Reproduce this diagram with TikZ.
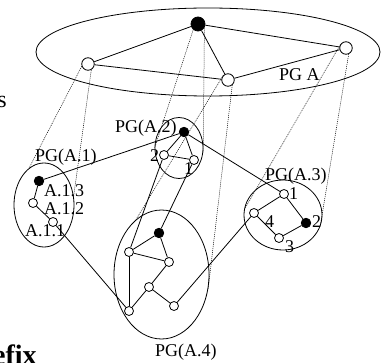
\documentclass[tikz,border=0pt]{standalone}
\usepackage{fontspec}
\setmainfont{Liberation Serif}
\usetikzlibrary{shapes.geometric}
\begin{document}
\begin{tikzpicture}[x=1pt,y=-1pt,
  lbl/.style={font=\fontsize{18}{21}\selectfont, inner sep=0pt},
  topw/.style={circle,draw,fill=white,line width=0.8pt,minimum size=12.5pt,inner sep=0pt},
  topb/.style={circle,draw,fill=black,line width=0.8pt,minimum size=14pt,inner sep=0pt},
  subw/.style={circle,draw,fill=white,line width=0.8pt,minimum size=9pt,inner sep=0pt},
  subb/.style={circle,draw,fill=black,line width=0.8pt,minimum size=9.5pt,inner sep=0pt},
  grp/.style={ellipse,draw,line width=0.8pt,inner sep=0pt},
  edge/.style={line width=0.8pt},
  proj/.style={line width=0.5pt, dash pattern=on 1pt off 1pt}]
\useasboundingbox (0,0) rectangle (381,363);

% group ellipses
\node[grp, minimum width=344pt, minimum height=88pt] (g0) at (208,52) {};
\node[grp, minimum width=60pt, minimum height=84pt] (g1) at (44,205) {};
\node[grp, minimum width=48pt, minimum height=61pt] (g2) at (179,148) {};
\node[grp, minimum width=78pt, minimum height=70pt] (g3) at (283,215) {};
\node[grp, minimum width=95pt, minimum height=129pt] (g4) at (161.5,274.5) {};

% top nodes
\node[topw] (L) at (88,64) {};
\node[topb] (B) at (198,24) {};
\node[topw] (M) at (228,80) {};
\node[topw] (R) at (346,48) {};

% PG(A.1)
\node[subb] (a13) at (39,181) {};
\node[subw] (a12) at (33,203) {};
\node[subw] (a11) at (53,222) {};
% PG(A.2)
\node[subb] (b0) at (184,132) {};
\node[subw] (b2) at (164,155) {};
\node[subw] (b1) at (194,160) {};
% PG(A.3)
\node[subw] (c1) at (284,194) {};
\node[subw] (c4) at (254,213) {};
\node[subb] (c2) at (306,223) {};
\node[subw] (c3) at (279,238) {};
% PG(A.4)
\node[subb] (d0) at (159,233) {};
\node[subw] (da) at (129,252) {};
\node[subw] (db) at (169,262) {};
\node[subw] (dc) at (149,287) {};
\node[subw] (dd) at (129,311) {};
\node[subw] (de) at (174,306) {};

% top edges
\draw[edge] (L) -- (B);
\draw[edge] (B) -- (R);
\draw[edge] (B) -- (M);
\draw[edge] (L) -- (M);
\draw[edge] (M) -- (R);

% inner edges
\draw[edge] (a13) -- (a12);
\draw[edge] (a12) -- (a11);
\draw[edge] (b0) -- (b2);
\draw[edge] (b0) -- (b1);
\draw[edge] (b2) -- (b1);
\draw[edge] (c1) -- (c4);
\draw[edge] (c1) -- (c2);
\draw[edge] (c2) -- (c3);
\draw[edge] (c3) -- (c4);
\draw[edge] (d0) -- (da);
\draw[edge] (d0) -- (db);
\draw[edge] (da) -- (db);
\draw[edge] (da) -- (dd);
\draw[edge] (db) -- (dc);
\draw[edge] (dc) -- (dd);
\draw[edge] (dc) -- (de);

% cross edges
\draw[edge] (a13) -- (b0);
\draw[edge] (a11) -- (dd);
\draw[edge] (b0) -- (c1);
\draw[edge] (b2) -- (da);
\draw[edge] (b1) -- (d0);
\draw[edge] (de) -- (c4);

% projection lines
\draw[proj] (L.200) -- (g1.112);
\draw[proj] (L.300) -- (g1.17);
\draw[proj] (B.230) -- (g2.180);
\draw[proj] (B.330) -- (g2.350);
\draw[proj] (M.135) -- (g4.115);
\draw[proj] (M.310) -- (g4.342);
\draw[proj] (R.146) -- (g3.173);
\draw[proj] (R.294) -- (g3.342);

% labels
\node[lbl, anchor=base west] (tA) at (279,81) {PG A};
\node[lbl, anchor=base west] (t1) at (35,162) {PG(A.1)};
\node[lbl, anchor=base west] (t2) at (115,133) {PG(A.2)};
\node[lbl, anchor=base west] (t3) at (265,181) {PG(A.3)};
\node[lbl, anchor=base west] (t4) at (155,357) {PG(A.4)};
\node[lbl, anchor=base west] (l13) at (44,197) {A.1.3};
\node[lbl, anchor=base west] (l12) at (44,215) {A.1.2};
\node[lbl, anchor=base west] (l11) at (25,237) {A.1.1};
\node[lbl, anchor=base west] (lb2) at (150,162) {2};
\node[lbl, anchor=base west] (lb1) at (184,175) {1};
\node[lbl, anchor=base west] (lc1) at (289,200) {1};
\node[lbl, anchor=base west] (lc4) at (265,228) {4};
\node[lbl, anchor=base west] (lc2) at (312,228) {2};
\node[lbl, anchor=base west] (lc3) at (285,253) {3};

% cut-off text fragments
\node[font=\fontsize{24}{28}\selectfont, inner sep=0pt, anchor=base east] (fs) at (7,108) {s};
\node[font=\fontsize{28}{32}\selectfont\bfseries, inner sep=0pt, anchor=base west] (fx) at (-7,365) {efix};
\end{tikzpicture}
\end{document}
